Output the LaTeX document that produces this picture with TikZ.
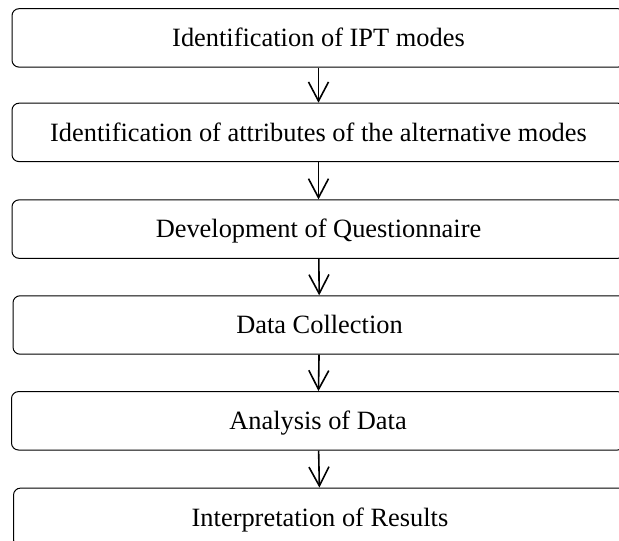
\documentclass[tikz,border=0pt]{standalone}
\usepackage{fontspec}
\setmainfont{Liberation Serif}
\usepackage{tikz}
\usetikzlibrary{arrows.meta}
\tikzset{
  stepbox/.style={
    draw, line width=0.5pt, rounded corners=3.5pt,
    minimum width=306.5pt, minimum height=29.2pt,
    text height=8.7pt, text depth=0pt, inner sep=0pt,
    font=\fontsize{13.2}{15}\selectfont
  },
  flow/.style={line width=0.8pt, -{Straight Barb[length=9.5pt,width=10pt]}}
}
\begin{document}
\begin{tikzpicture}[x=0.5pt,y=-0.5pt]
\useasboundingbox (0,0) rectangle (619,540);
\node (ipt) at (318.5,37.9) [stepbox]{Identification of IPT modes};
\node (attr) at (318.5,132.4) [stepbox]{Identification of attributes of the alternative modes};
\node (quest) at (318.5,229.1) [stepbox]{Development of Questionnaire};
\node (coll) at (319.5,325) [stepbox]{Data Collection};
\node (anal) at (318,420.8) [stepbox]{Analysis of Data};
\node (interp) at (320,517.3) [stepbox]{Interpretation of Results};
\draw[flow] (ipt)--(attr);
\draw[flow] (attr)--(quest);
\draw[flow] (quest)--(coll);
\draw[flow] (coll)--(anal);
\draw[flow] (anal)--(interp);
\end{tikzpicture}
\end{document}
